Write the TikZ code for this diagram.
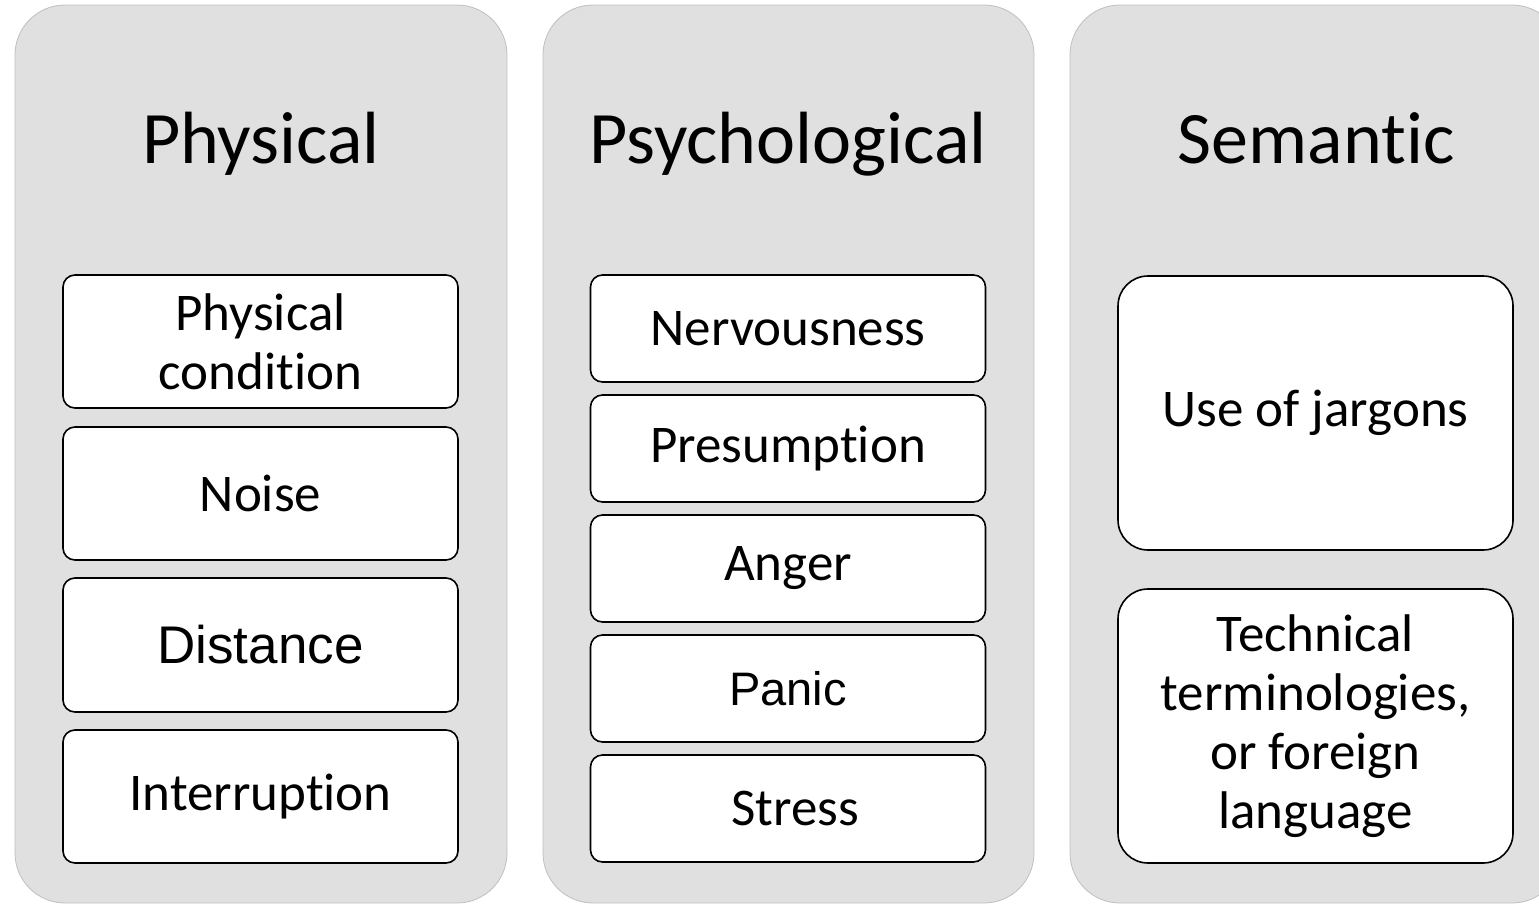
\documentclass[tikz,border=0pt]{standalone}
\usepackage{fontspec}
\setmainfont{Carlito}[Ligatures=NoCommon]
\newfontfamily\arialfont{Liberation Sans}
\tikzset{
	column/.style={draw=black!25,fill=black!12,line width=0.8pt,rounded corners=50pt},
	head/.style={anchor=base,font=\fontsize{74}{90}\selectfont},
	item/.style={draw,fill=white,line width=1.6pt,rounded corners=12pt,align=center,
		inner sep=0pt,minimum width=395pt,font=\fontsize{53}{59}\selectfont},
}

\begin{document}
\begin{tikzpicture}[x=1pt,y=-1pt]
	\useasboundingbox (0,0) rectangle (1539,905);
	\clip (0,0) rectangle (1539,905);
	
	% three gray columns
	\foreach \l/\r in {15/507,543/1034,1070/1562}
		\draw[column] (\l,5) rectangle (\r,903);
	
	\node[head] (physical) at (261,163) {Physical};
	\node[head] (psychological) at (788,163) {Psychological};
	\node[head] (semantic) at (1316,163) {Semantic};
	
	\node[item,minimum height=133pt] (condition) at (260.5,341.5) {Physical\\condition};
	\node[item,minimum height=133pt] (noise) at (260.5,493.5) {Noise};
	\node[item,minimum height=134pt] (distance) at (260.5,645) {\arialfont\fontsize{53}{59}\selectfont Distance};
	\node[item,minimum height=133pt] (interruption) at (260.5,796.5) {Interruption};
	
	\foreach \t [count=\i] in {Nervousness,Presumption,Anger,
			{\arialfont\fontsize{47}{59}\selectfont Panic},{\hspace*{14pt}Stress}}
		\node[item,minimum height=107pt] (psy\i) at (788,208.5+120*\i) {\t};
	
	\node[item,minimum height=274pt,rounded corners=30pt] (jargons) at (1315.5,413) {Use of jargons};
	\node[item,minimum height=274pt,rounded corners=30pt] (technical) at (1315.5,726)
		{Technical\\terminologies,\\or foreign\\language};
\end{tikzpicture}
\end{document}
